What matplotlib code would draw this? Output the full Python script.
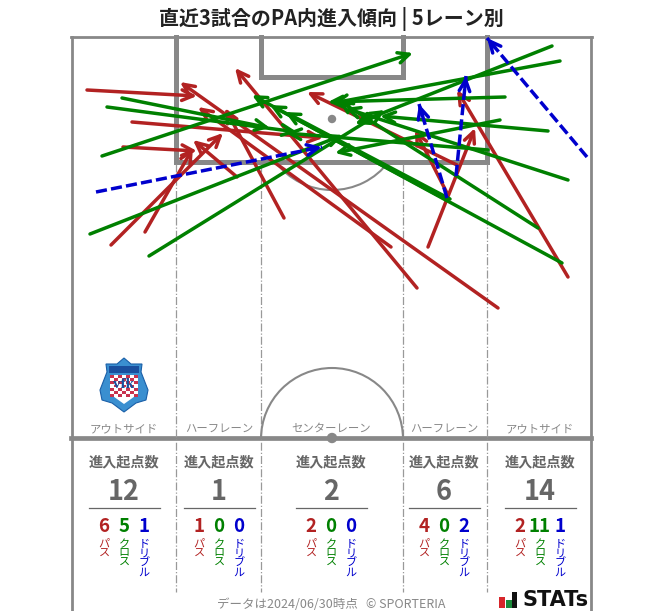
import numpy as np
import matplotlib
matplotlib.use("Agg")
import matplotlib.pyplot as plt
from matplotlib.patches import Arc, Circle, Polygon, Rectangle

plt.rcParams['font.family'] = ['Noto Sans CJK JP', 'DejaVu Sans']

# arrows: start x, start y, end x, end y
pass_arrows = [
    (87, 90, 197, 96), (123, 147, 197, 151), (111, 245, 223, 133),
    (145, 232, 193, 148), (132, 122, 323, 138), (237, 177, 193, 140),
    (284, 218, 225, 108), (391, 247, 198, 107), (417, 288, 235, 68),
    (498, 308, 180, 82), (457, 165, 307, 92), (447, 193, 415, 130),
    (428, 247, 475, 128), (568, 277, 457, 90),
]
cross_arrows = [
    (122, 98, 270, 128), (107, 107, 297, 132), (102, 156, 413, 53),
    (90, 234, 343, 135), (149, 256, 385, 110), (552, 46, 355, 124),
    (560, 61, 333, 103), (505, 97, 328, 102), (500, 120, 335, 153),
    (548, 131, 380, 116), (568, 180, 345, 108), (562, 263, 252, 95),
    (450, 199, 285, 112), (538, 228, 338, 100), (488, 150, 286, 133),
    (445, 199, 270, 105),
]
dribble_arrows = [
    (96, 192, 322, 147), (447, 198, 419, 104),
    (456, 176, 466, 76), (587, 157, 487, 38),
]

zone_names = ["アウトサイド", "ハーフレーン", "センターレーン", "ハーフレーン", "アウトサイド"]
zone_centers = [124, 219, 331, 444, 540]
zone_totals = [12, 1, 2, 6, 14]
pass_counts = [6, 1, 2, 4, 2]
cross_counts = [5, 0, 0, 0, 11]
dribble_counts = [1, 0, 0, 2, 1]

RED = "#b22222"
GREEN = "#008000"
BLUE = "#0000cd"
LINE = "#888888"

fig = plt.figure(figsize=(6.63, 6.11), dpi=100)
ax = fig.add_axes([0, 0, 1, 1])
ax.set_xlim(0, 663)
ax.set_ylim(611, 0)
ax.axis("off")

# pitch
ax.plot([72, 72], [611, 37], color=LINE, lw=2, zorder=1)
ax.plot([590.5, 590.5], [611, 37], color=LINE, lw=2, zorder=1)
ax.plot([71, 591.5], [37, 37], color=LINE, lw=2, zorder=1)
ax.plot([176, 176, 487, 487], [37, 162, 162, 37], color=LINE, lw=3.6, zorder=1, solid_joinstyle="miter")
ax.plot([261, 261, 403, 403], [37, 77, 77, 37], color=LINE, lw=3.6, zorder=1, solid_joinstyle="miter")
ax.plot([71, 591], [438, 438], color=LINE, lw=3.4, zorder=1)
for x in [176, 261, 403, 487]:
    ax.plot([x, x], [164, 592], color="#999999", lw=0.9, ls="-.", zorder=1)
ax.add_patch(Arc((332, 119), 142, 142, theta1=37, theta2=143, color=LINE, lw=1.5, zorder=1))
ax.add_patch(Arc((332, 439), 142, 142, theta1=180, theta2=360, color=LINE, lw=1.5, zorder=1))
ax.add_patch(Circle((332, 119), 3.5, color=LINE, zorder=1))
ax.add_patch(Circle((332, 438), 4.5, color=LINE, zorder=2))

HEAD = "->,head_length=0.8,head_width=0.38"


def arrow(ax, a, color, z):
    ax.annotate("", xy=(a[2], a[3]), xytext=(a[0], a[1]), zorder=z,
                arrowprops=dict(arrowstyle=HEAD, color=color, lw=2.5, shrinkA=0, shrinkB=0))


for a in pass_arrows:
    arrow(ax, a, RED, 3)
for a in cross_arrows:
    arrow(ax, a, GREEN, 4)
for a in dribble_arrows:
    ax.plot([a[0], a[2]], [a[1], a[3]], color=BLUE, lw=2.5, ls=(0, (3.2, 1.2)), zorder=5)
    # head drawn alone so it stays solid
    dx, dy = a[2] - a[0], a[3] - a[1]
    d = np.hypot(dx, dy)
    ax.annotate("", xy=(a[2], a[3]), xytext=(a[2] - dx / d * 12, a[3] - dy / d * 12), zorder=5,
                arrowprops=dict(arrowstyle=HEAD, color=BLUE, lw=2.5, shrinkA=0, shrinkB=0))

ax.text(331, 19, "直近3試合のPA内進入傾向 | 5レーン別", ha="center", va="center",
        fontsize=14.4, fontweight="bold", color="#222222")

# lane blocks
for i, cx in enumerate(zone_centers):
    ax.text(cx, 429, zone_names[i], ha="center", va="center", fontsize=8.2, color="#888888")
    ax.text(cx, 462, "進入起点数", ha="center", va="center", fontsize=10.2, fontweight="bold", color="#666666")
    ax.text(cx, 492, str(zone_totals[i]), ha="center", va="center", fontsize=19.5, fontweight="bold", color="#666666")
    ax.plot([cx - 35.5, cx + 35.5], [508, 508], color="#666666", lw=0.9)
    blocks = [(-20, pass_counts[i], "パ\nス", RED), (0, cross_counts[i], "ク\nロ\nス", GREEN),
              (20, dribble_counts[i], "ド\nリ\nブ\nル", BLUE)]
    for off, n, lab, col in blocks:
        ax.text(cx + off, 526.5, str(n), ha="center", va="center", fontsize=13.5, fontweight="bold", color=col)
        ax.text(cx + off, 539, lab, ha="center", va="top", fontsize=8, color=col, linespacing=0.95)

ax.text(331, 604, "データは2024/06/30時点   © SPORTERIA", ha="center", va="center", fontsize=9, color="#888888")

# STATs mark
ax.add_patch(Rectangle((499, 597), 6, 11, color="#d7262b", lw=0))
ax.add_patch(Rectangle((506, 600), 6, 8, color="#1a8a3a", lw=0))
ax.add_patch(Rectangle((512, 592), 5, 16, color="#111111", lw=0))
ax.text(522, 600.5, "STATs", ha="left", va="center", fontsize=15, fontweight="bold",
        color="#111111", family="DejaVu Sans")

# crest
shield_x = [124, 131, 142, 141, 148, 146, 136, 124, 112, 102, 100, 107, 106, 117]
shield_y = [358, 364, 364, 372, 390, 400, 403, 412, 403, 400, 390, 372, 364, 364]
ax.add_patch(Polygon(np.column_stack([shield_x, shield_y]), closed=True, fc="#3a8fd0", ec="#1a5fa8", lw=0.8, zorder=2))
ax.add_patch(Rectangle((109, 366), 30, 7, color="#1a4f9e", lw=0, zorder=3))
ax.add_patch(Polygon([(110, 375), (138, 375), (138, 394), (124, 404), (110, 394)], closed=True, fc="white", lw=0, zorder=3))
for row in range(7):
    for col in range(7):
        if (row + col) % 2 == 0 and 375 + row * 3.2 < 396:
            ax.add_patch(Rectangle((110 + col * 4, 375 + row * 3.2), 3.6, 2.8, color="#c8324e", lw=0, zorder=3))
ax.text(124, 385, "vfk", ha="center", va="center", fontsize=11, fontweight="bold", color="#1a4f9e",
        family="Liberation Serif", zorder=4)

fig.savefig("out.png", dpi=100)
